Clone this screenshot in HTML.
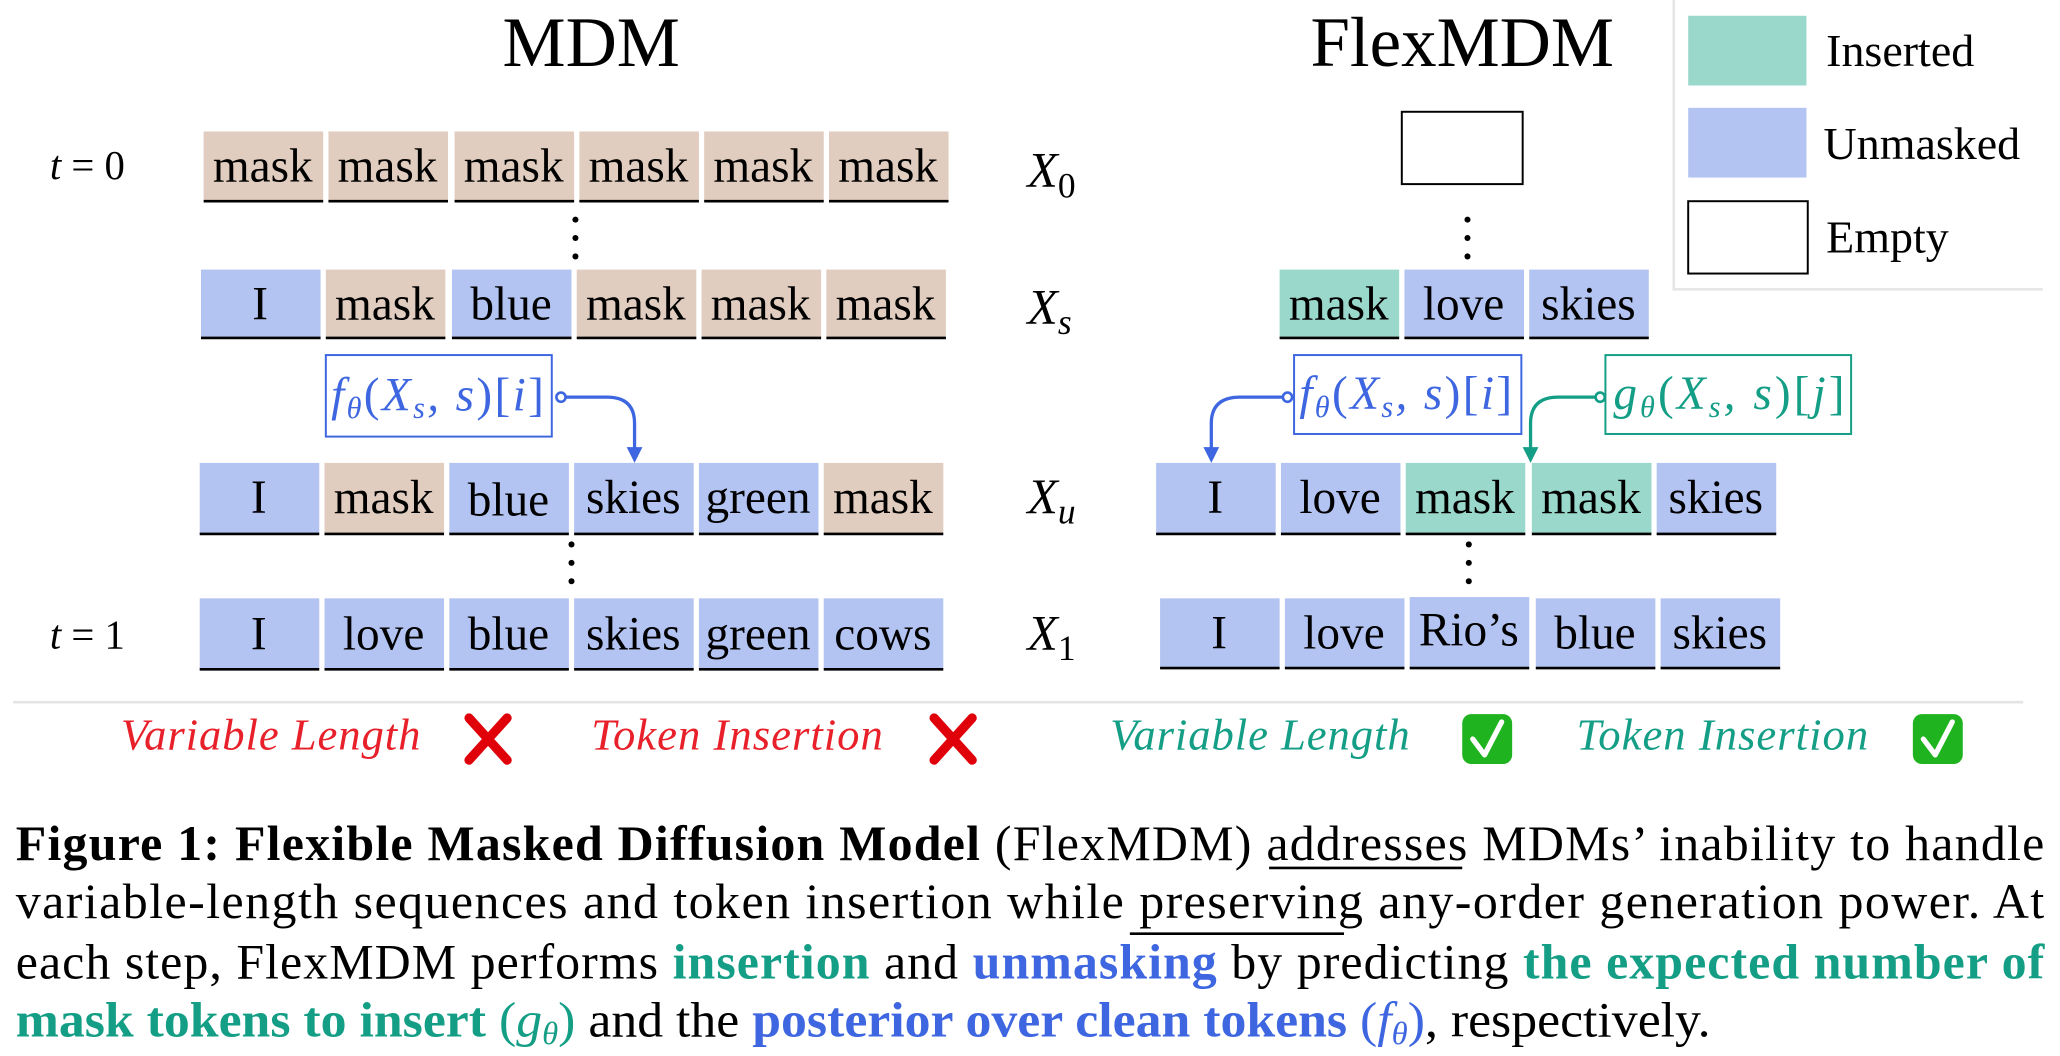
<!DOCTYPE html>
<html><head><meta charset="utf-8"><style>
html,body{margin:0;padding:0;background:#fff;width:2060px;height:1056px;overflow:hidden}
svg{display:block}
text{font-family:"Liberation Serif",serif;}
.c{font-size:36px;text-anchor:middle;fill:#000}
.m{font-style:italic}
</style></head><body>
<svg width="2060" height="1056" viewBox="0 0 1568 803" preserveAspectRatio="none" xmlns="http://www.w3.org/2000/svg">
<!-- titles -->
<text x="450" y="50" font-size="54" text-anchor="middle">MDM</text>
<text x="1113" y="50" font-size="54" text-anchor="middle">FlexMDM</text>

<!-- legend -->
<path d="M1274,0 V220 H1555" fill="none" stroke="#e6e6e6" stroke-width="2"/>
<rect x="1285" y="12" width="90" height="53" fill="#9ad8cc"/>
<rect x="1285" y="82" width="90" height="53" fill="#b3c3f2"/>
<rect x="1285" y="153" width="91" height="55" fill="#fff" stroke="#000" stroke-width="1.5"/>
<text x="1390" y="50" font-size="35">Inserted</text>
<text x="1388" y="121" font-size="35">Unmasked</text>
<text x="1390" y="192" font-size="35">Empty</text>

<!-- left labels -->
<text x="38" y="136" font-size="31" class="m">t <tspan font-style="normal">= 0</tspan></text>
<text x="38" y="493" font-size="31" class="m">t <tspan font-style="normal">= 1</tspan></text>

<!-- X labels -->
<g font-size="38" class="m">
<text x="782" y="142">X<tspan font-size="27" font-style="normal" dy="8">0</tspan></text>
<text x="782" y="246">X<tspan font-size="27" dy="8">s</tspan></text>
<text x="782" y="390">X<tspan font-size="27" dy="8">u</tspan></text>
<text x="782" y="494">X<tspan font-size="27" font-style="normal" dy="8">1</tspan></text>
</g>

<!-- Row 1 -->
<g>
<rect x="155" y="100" width="91" height="53" fill="#e0cdbf"/><rect x="250" y="100" width="91" height="53" fill="#e0cdbf"/><rect x="346" y="100" width="91" height="53" fill="#e0cdbf"/><rect x="441" y="100" width="91" height="53" fill="#e0cdbf"/><rect x="536" y="100" width="91" height="53" fill="#e0cdbf"/><rect x="631" y="100" width="91" height="53" fill="#e0cdbf"/>
<g stroke="#000" stroke-width="2"><line x1="155" x2="246" y1="153" y2="153"/><line x1="250" x2="341" y1="153" y2="153"/><line x1="346" x2="437" y1="153" y2="153"/><line x1="441" x2="532" y1="153" y2="153"/><line x1="536" x2="627" y1="153" y2="153"/><line x1="631" x2="722" y1="153" y2="153"/></g>
<text class="c" x="200" y="138">mask</text><text class="c" x="295" y="138">mask</text><text class="c" x="391" y="138">mask</text><text class="c" x="486" y="138">mask</text><text class="c" x="581" y="138">mask</text><text class="c" x="676" y="138">mask</text>
</g>
<!-- Row 2 -->
<g>
<rect x="153" y="205" width="91" height="52" fill="#b3c3f2"/><rect x="248" y="205" width="91" height="52" fill="#e0cdbf"/><rect x="344" y="205" width="91" height="52" fill="#b3c3f2"/><rect x="439" y="205" width="91" height="52" fill="#e0cdbf"/><rect x="534" y="205" width="91" height="52" fill="#e0cdbf"/><rect x="629" y="205" width="91" height="52" fill="#e0cdbf"/>
<g stroke="#000" stroke-width="2"><line x1="153" x2="244" y1="257" y2="257"/><line x1="248" x2="339" y1="257" y2="257"/><line x1="344" x2="435" y1="257" y2="257"/><line x1="439" x2="530" y1="257" y2="257"/><line x1="534" x2="625" y1="257" y2="257"/><line x1="629" x2="720" y1="257" y2="257"/></g>
<text class="c" x="198" y="243">I</text><text class="c" x="293" y="243">mask</text><text class="c" x="389" y="243">blue</text><text class="c" x="484" y="243">mask</text><text class="c" x="579" y="243">mask</text><text class="c" x="674" y="243">mask</text>
</g>
<!-- Row 3 -->
<g>
<rect x="152" y="352" width="91" height="54" fill="#b3c3f2"/><rect x="247" y="352" width="91" height="54" fill="#e0cdbf"/><rect x="342" y="352" width="91" height="54" fill="#b3c3f2"/><rect x="437" y="352" width="91" height="54" fill="#b3c3f2"/><rect x="532" y="352" width="91" height="54" fill="#b3c3f2"/><rect x="627" y="352" width="91" height="54" fill="#e0cdbf"/>
<g stroke="#000" stroke-width="2"><line x1="152" x2="243" y1="406" y2="406"/><line x1="247" x2="338" y1="406" y2="406"/><line x1="342" x2="433" y1="406" y2="406"/><line x1="437" x2="528" y1="406" y2="406"/><line x1="532" x2="623" y1="406" y2="406"/><line x1="627" x2="718" y1="406" y2="406"/></g>
<text class="c" x="197" y="390">I</text><text class="c" x="292" y="390">mask</text><text class="c" x="387" y="392">blue</text><text class="c" x="482" y="390">skies</text><text class="c" x="577" y="390">green</text><text class="c" x="672" y="390">mask</text>
</g>
<!-- Row 4 -->
<g>
<rect x="152" y="455" width="91" height="54" fill="#b3c3f2"/><rect x="247" y="455" width="91" height="54" fill="#b3c3f2"/><rect x="342" y="455" width="91" height="54" fill="#b3c3f2"/><rect x="437" y="455" width="91" height="54" fill="#b3c3f2"/><rect x="532" y="455" width="91" height="54" fill="#b3c3f2"/><rect x="627" y="455" width="91" height="54" fill="#b3c3f2"/>
<g stroke="#000" stroke-width="2"><line x1="152" x2="243" y1="509" y2="509"/><line x1="247" x2="338" y1="509" y2="509"/><line x1="342" x2="433" y1="509" y2="509"/><line x1="437" x2="528" y1="509" y2="509"/><line x1="532" x2="623" y1="509" y2="509"/><line x1="627" x2="718" y1="509" y2="509"/></g>
<text class="c" x="197" y="494">I</text><text class="c" x="292" y="494">love</text><text class="c" x="387" y="494">blue</text><text class="c" x="482" y="494">skies</text><text class="c" x="577" y="494">green</text><text class="c" x="672" y="494">cows</text>
</g>
<!-- dots -->
<g fill="#000"><circle cx="438" cy="167" r="2.3"/><circle cx="438" cy="181" r="2.3"/><circle cx="438" cy="195" r="2.3"/>
<circle cx="435" cy="414" r="2.3"/><circle cx="435" cy="428" r="2.3"/><circle cx="435" cy="442" r="2.3"/>
<circle cx="1117" cy="167" r="2.3"/><circle cx="1117" cy="181" r="2.3"/><circle cx="1117" cy="195" r="2.3"/>
<circle cx="1118" cy="414" r="2.3"/><circle cx="1118" cy="428" r="2.3"/><circle cx="1118" cy="442" r="2.3"/></g>

<!-- f box left -->
<rect x="248" y="270" width="172" height="62" fill="#fff" stroke="#3d66e0" stroke-width="1.5"/>
<text x="252" y="312" font-size="36" class="m" fill="#3d66e0" textLength="162">f<tspan font-size="23" dy="6">θ</tspan><tspan dy="-6" font-style="normal">(</tspan>X<tspan font-size="23" dy="6">s</tspan><tspan dy="-6">, s</tspan><tspan font-style="normal">)[</tspan>i<tspan font-style="normal">]</tspan></text>
<path d="M430,302 H462 Q483,302 483,322 V342" fill="none" stroke="#3d66e0" stroke-width="2.5"/>
<polygon points="477,340 489,340 483,352" fill="#3d66e0"/>
<circle cx="427" cy="302" r="3.5" fill="#fff" stroke="#3d66e0" stroke-width="2"/>

<!-- Right: X0 -->
<rect x="1067" y="85" width="92" height="55" fill="#fff" stroke="#000" stroke-width="1.5"/>
<!-- Xs row -->
<rect x="974" y="205" width="91" height="52" fill="#9ad8cc"/><rect x="1069" y="205" width="91" height="52" fill="#b3c3f2"/><rect x="1164" y="205" width="91" height="52" fill="#b3c3f2"/>
<g stroke="#000" stroke-width="2"><line x1="974" x2="1065" y1="257" y2="257"/><line x1="1069" x2="1160" y1="257" y2="257"/><line x1="1164" x2="1255" y1="257" y2="257"/></g>
<text class="c" x="1019" y="243">mask</text><text class="c" x="1114" y="243">love</text><text class="c" x="1209" y="243">skies</text>

<!-- f box right -->
<rect x="985" y="270" width="173" height="60" fill="#fff" stroke="#3d66e0" stroke-width="1.5"/>
<text x="989" y="311" font-size="36" class="m" fill="#3d66e0" textLength="162">f<tspan font-size="23" dy="6">θ</tspan><tspan dy="-6" font-style="normal">(</tspan>X<tspan font-size="23" dy="6">s</tspan><tspan dy="-6">, s</tspan><tspan font-style="normal">)[</tspan>i<tspan font-style="normal">]</tspan></text>
<path d="M977,302 H944 Q922,302 922,322 V342" fill="none" stroke="#3d66e0" stroke-width="2.5"/>
<polygon points="916,340 928,340 922,352" fill="#3d66e0"/>
<circle cx="980" cy="302" r="3.5" fill="#fff" stroke="#3d66e0" stroke-width="2"/>
<!-- g box -->
<rect x="1222" y="270" width="187" height="60" fill="#fff" stroke="#139e85" stroke-width="1.5"/>
<text x="1228" y="311" font-size="36" class="m" fill="#139e85" textLength="176">g<tspan font-size="23" dy="6">θ</tspan><tspan dy="-6" font-style="normal">(</tspan>X<tspan font-size="23" dy="6">s</tspan><tspan dy="-6">, s</tspan><tspan font-style="normal">)[</tspan>j<tspan font-style="normal">]</tspan></text>
<path d="M1215,302 H1186 Q1165,302 1165,322 V342" fill="none" stroke="#139e85" stroke-width="2.5"/>
<polygon points="1159,340 1171,340 1165,352" fill="#139e85"/>
<circle cx="1218" cy="302" r="3.5" fill="#fff" stroke="#139e85" stroke-width="2"/>

<!-- Xu row -->
<rect x="880" y="352" width="91" height="54" fill="#b3c3f2"/><rect x="975" y="352" width="91" height="54" fill="#b3c3f2"/><rect x="1070" y="352" width="91" height="54" fill="#9ad8cc"/><rect x="1166" y="352" width="91" height="54" fill="#9ad8cc"/><rect x="1261" y="352" width="91" height="54" fill="#b3c3f2"/>
<g stroke="#000" stroke-width="2"><line x1="880" x2="971" y1="406" y2="406"/><line x1="975" x2="1066" y1="406" y2="406"/><line x1="1070" x2="1161" y1="406" y2="406"/><line x1="1166" x2="1257" y1="406" y2="406"/><line x1="1261" x2="1352" y1="406" y2="406"/></g>
<text class="c" x="925" y="390">I</text><text class="c" x="1020" y="390">love</text><text class="c" x="1115" y="390">mask</text><text class="c" x="1211" y="390">mask</text><text class="c" x="1306" y="390">skies</text>

<!-- X1 row -->
<rect x="883" y="455" width="91" height="53" fill="#b3c3f2"/><rect x="978" y="455" width="91" height="53" fill="#b3c3f2"/><rect x="1073" y="454" width="91" height="54" fill="#b3c3f2"/><rect x="1169" y="455" width="91" height="53" fill="#b3c3f2"/><rect x="1264" y="455" width="91" height="53" fill="#b3c3f2"/>
<g stroke="#000" stroke-width="2"><line x1="883" x2="974" y1="508" y2="508"/><line x1="978" x2="1069" y1="508" y2="508"/><line x1="1073" x2="1164" y1="508" y2="508"/><line x1="1169" x2="1260" y1="508" y2="508"/><line x1="1264" x2="1355" y1="508" y2="508"/></g>
<text class="c" x="928" y="493">I</text><text class="c" x="1023" y="493">love</text><text class="c" x="1118" y="491">Rio’s</text><text class="c" x="1214" y="493">blue</text><text class="c" x="1309" y="493">skies</text>

<!-- separator -->
<line x1="10" y1="534" x2="1540" y2="534" stroke="#e4e4e4" stroke-width="2"/>

<!-- feature row -->
<g font-size="34" class="m">
<text x="92" y="570" fill="#e8202a" textLength="228">Variable Length</text>
<text x="450" y="570" fill="#e8202a" textLength="222">Token Insertion</text>
<text x="845" y="570" fill="#139e85" textLength="228">Variable Length</text>
<text x="1200" y="570" fill="#139e85" textLength="222">Token Insertion</text>
</g>
<g stroke="#e0000a" stroke-width="7" stroke-linecap="round">
<line x1="357" y1="546" x2="386" y2="578"/><line x1="386" y1="546" x2="357" y2="578"/>
<line x1="711" y1="546" x2="740" y2="578"/><line x1="740" y1="546" x2="711" y2="578"/>
</g>
<rect x="1113" y="543" width="38" height="38" rx="7" fill="#1fb31f"/>
<rect x="1456" y="543" width="38" height="38" rx="7" fill="#1fb31f"/>
<g stroke="#fff" stroke-width="4" fill="none" stroke-linecap="round" stroke-linejoin="round">
<path d="M1121,562 L1130,574 L1143,549"/><path d="M1464,562 L1473,574 L1486,549"/>
</g>

<!-- caption -->
<g font-size="38">
<text x="12" y="654" textLength="1544" lengthAdjust="spacing"><tspan font-weight="bold">Figure 1: Flexible Masked Diffusion Model</tspan> (FlexMDM) addresses MDMs’ inability to handle</text>
<text x="12" y="698" textLength="1544" lengthAdjust="spacing">variable-length sequences and token insertion while preserving any-order generation power.  At</text>
<text x="12" y="744" textLength="1544" lengthAdjust="spacing">each step, FlexMDM performs <tspan font-weight="bold" fill="#139e85">insertion</tspan> and <tspan font-weight="bold" fill="#3d66e0">unmasking</tspan> by predicting <tspan font-weight="bold" fill="#139e85">the expected number of</tspan></text>
<text x="12" y="788" textLength="1290" lengthAdjust="spacingAndGlyphs"><tspan font-weight="bold" fill="#139e85">mask tokens to insert</tspan> <tspan fill="#139e85">(<tspan font-style="italic">g</tspan><tspan font-size="24" font-style="italic" dy="6">θ</tspan><tspan dy="-6">)</tspan></tspan> and the <tspan font-weight="bold" fill="#3d66e0">posterior over clean tokens</tspan> <tspan fill="#3d66e0">(<tspan font-style="italic">f</tspan><tspan font-size="24" font-style="italic" dy="6">θ</tspan><tspan dy="-6">)</tspan></tspan>, respectively.</text>
</g>
<line x1="966" y1="660" x2="1113" y2="660" stroke="#000" stroke-width="2"/>
<line x1="860" y1="710" x2="1023" y2="710" stroke="#000" stroke-width="2"/>
</svg>
</body></html>
